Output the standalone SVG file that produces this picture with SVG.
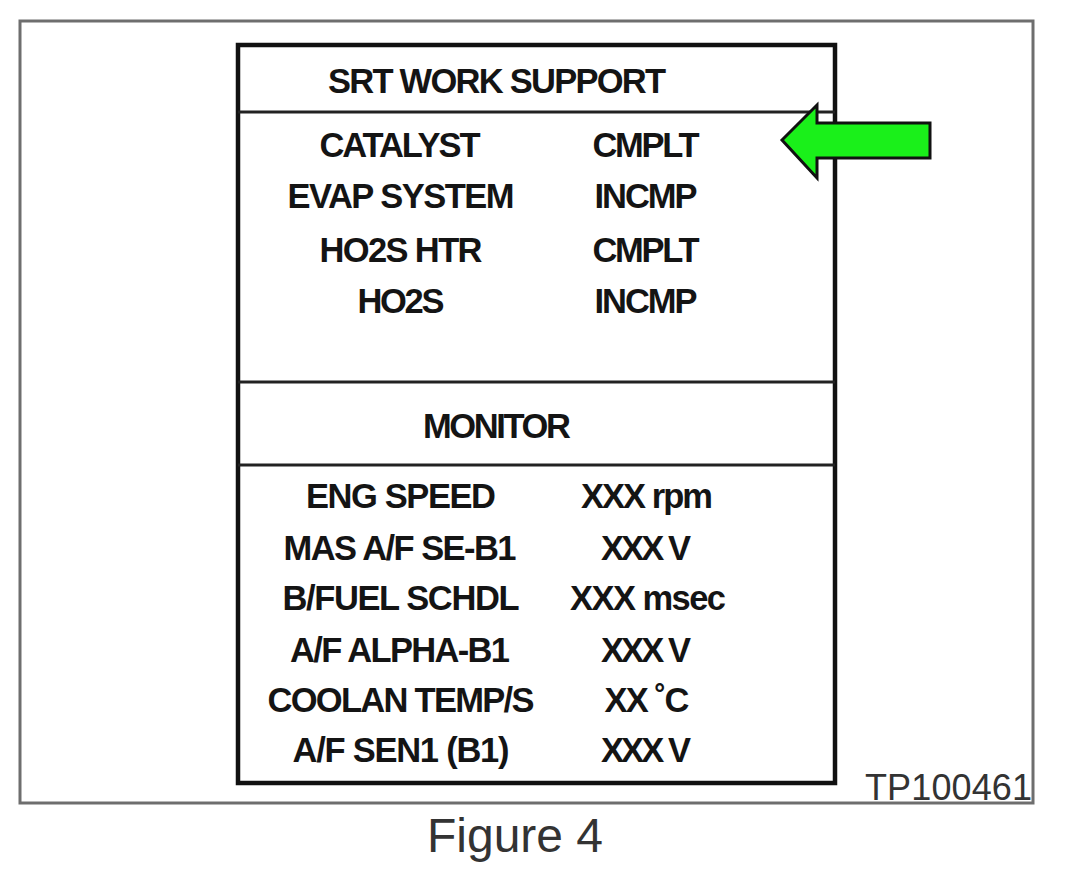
<svg xmlns="http://www.w3.org/2000/svg" width="1075" height="871" viewBox="0 0 1075 871">
<style>
  .frame{fill:none;stroke:#6e6e6e;stroke-width:3}
  .box{fill:none;stroke:#111;stroke-width:4.5}
  .div{stroke:#222;stroke-width:3}
  .t{font-family:"Liberation Sans",Arial,sans-serif;font-weight:bold;font-size:34.5px;fill:#141414;text-anchor:middle}
  .lbl{font-family:"Liberation Sans",Arial,sans-serif;fill:#333}
  .arrow{fill:#1af01a;stroke:#111;stroke-width:3;stroke-linejoin:miter}
</style>
<rect width="1075" height="871" fill="#fff"/>
<g id="outer-frame">
  <rect class="frame" x="20" y="21" width="1013" height="782"/>
</g>
<g id="panel">
  <rect class="box" x="238" y="45" width="597" height="738" fill="#fff"/>
  <line class="div" x1="238" y1="112" x2="835" y2="112"/>
  <line class="div" x1="238" y1="382" x2="835" y2="382"/>
  <line class="div" x1="238" y1="465" x2="835" y2="465"/>
</g>
<g id="srt-header">
  <text class="t" x="497" y="93" textLength="338" font-size="35">SRT WORK SUPPORT</text>
</g>
<g id="srt-rows">
  <text class="t" x="400" y="157" textLength="161">CATALYST</text>
  <text class="t" x="646" y="157" textLength="107">CMPLT</text>
  <text class="t" x="401" y="208" textLength="227">EVAP SYSTEM</text>
  <text class="t" x="646" y="208" textLength="103">INCMP</text>
  <text class="t" x="401" y="262" textLength="163">HO2S HTR</text>
  <text class="t" x="646" y="262" textLength="107">CMPLT</text>
  <text class="t" x="401" y="313" textLength="87">HO2S</text>
  <text class="t" x="646" y="313" textLength="103">INCMP</text>
</g>
<g id="monitor-header">
  <text class="t" x="497" y="438" textLength="148">MONITOR</text>
</g>
<g id="monitor-rows">
  <text class="t" x="401" y="508" textLength="190">ENG SPEED</text>
  <text class="t" x="647" y="508" textLength="132">XXX rpm</text>
  <text class="t" x="400" y="560" textLength="233">MAS A/F SE-B1</text>
  <text class="t" x="646" y="560" textLength="90">XXX V</text>
  <text class="t" x="401" y="610" textLength="237">B/FUEL SCHDL</text>
  <text class="t" x="648" y="610" textLength="156">XXX msec</text>
  <text class="t" x="400" y="662" textLength="220">A/F ALPHA-B1</text>
  <text class="t" x="646" y="662" textLength="90">XXX V</text>
  <text class="t" x="401" y="712" textLength="267">COOLAN TEMP/S</text>
  <text class="t" x="647" y="712" textLength="85">XX ˚C</text>
  <text class="t" x="401" y="762" textLength="217">A/F SEN1 (B1)</text>
  <text class="t" x="646" y="762" textLength="90">XXX V</text>
</g>
<g id="arrow">
  <polygon class="arrow" points="782,140 817,105 817,123 930,123 930,158 817,158 817,178"/>
</g>
<g id="labels">
  <text class="lbl" x="1032" y="800" font-size="36" text-anchor="end" textLength="167" fill="#444">TP100461</text>
  <text class="lbl" x="515" y="852" font-size="48" text-anchor="middle" fill="#1e1e1e">Figure 4</text>
</g>
</svg>
